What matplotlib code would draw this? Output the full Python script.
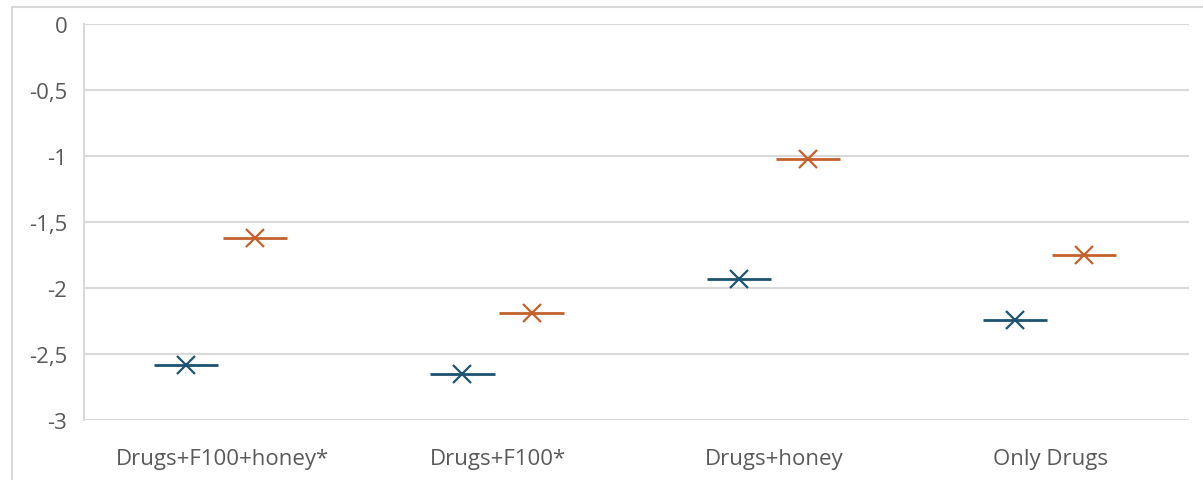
import numpy as np
import matplotlib.pyplot as plt
from matplotlib.patches import Rectangle

categories = ['Drugs+F100+honey*', 'Drugs+F100*', 'Drugs+honey', 'Only Drugs']
series_a = [-2.58, -2.65, -1.93, -2.24]   # dark blue
series_b = [-1.62, -2.19, -1.02, -1.75]   # orange
yticks = [0, -0.5, -1, -1.5, -2, -2.5, -3]
ytick_labels = ['0', '-0,5', '-1', '-1,5', '-2', '-2,5', '-3']

blue = '#1d5270'
orange = '#c4602b'
grid = '#d9d9d9'
text_col = '#595959'

plt.rcParams['font.family'] = ['Open Sans', 'DejaVu Sans']

fig = plt.figure(figsize=(12.03, 4.81), dpi=100)
# chart area border (only top/left visible in the reference)
fig.patches.append(Rectangle((12 / 1203, -0.1), 1.2, 1 - 8 / 481 + 0.1,
                             transform=fig.transFigure, fill=False,
                             edgecolor=grid, linewidth=1.5))

ax = fig.add_axes([84 / 1203, 1 - 421 / 481, (1189 - 84) / 1203, (421 - 25) / 481])

x = np.arange(len(categories))
half = 0.116
for xs, vals, off, col in [(x, series_a, -0.13, blue), (x, series_b, 0.12, orange)]:
    ax.hlines(vals, xs + off - half, xs + off + half, color=col, linewidth=2, zorder=3)
    ax.plot(xs + off, vals, linestyle='none', marker='x', markersize=13.5,
            markeredgewidth=1.6, color=col, zorder=4)

ax.set_xlim(-0.5, len(categories) - 0.5)
ax.set_ylim(-3, 0)
ax.set_yticks(yticks)
ax.set_yticklabels(ytick_labels)
ax.set_xticks(x)
ax.set_xticklabels(categories)

ax.yaxis.grid(True, color=grid, linewidth=1.5)
ax.set_axisbelow(True)
for s in ['top', 'right', 'bottom']:
    ax.spines[s].set_visible(False)
ax.spines['left'].set_color(grid)
ax.spines['left'].set_linewidth(1.5)
ax.tick_params(axis='both', length=0, labelsize=16, colors=text_col)
ax.tick_params(axis='y', pad=12)
ax.tick_params(axis='x', pad=20)

fig.savefig('out.png', dpi=100)
